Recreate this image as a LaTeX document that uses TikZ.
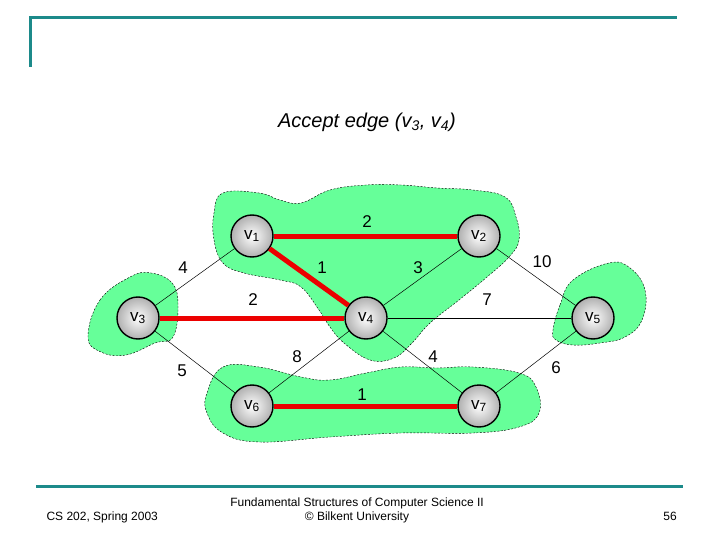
\documentclass[tikz,border=0pt]{standalone}
\usepackage{fontspec}
\setmainfont{Liberation Sans}
\definecolor{sarcelle}{RGB}{28,138,138}
\definecolor{vertpale}{RGB}{102,255,153}
\definecolor{rouge}{RGB}{236,0,0}
\newcommand{\sommet}[3]{\node[sommet] (#1) at (#2) {v\textsubscript{#3}}}
\newcommand{\arete}[2]{\draw[fine] (#1) -- (#2)}
\newcommand{\choisie}[2]{\draw[epaisse] (#1) -- (#2)}
\newcommand{\poids}[3]{\node[poids] (#1) at (#2) {#3}}

\begin{document}
\begin{tikzpicture}[x=1pt,y=-1pt,
	sommet/.style={circle,draw,line width=1.4pt,minimum size=42pt,inner sep=0pt,
		inner color=white,outer color=gray!62,font=\fontsize{17}{17}\selectfont},
	fine/.style={line width=0.5pt},
	epaisse/.style={line width=5pt,rouge},
	poids/.style={font=\fontsize{17}{17}\selectfont,inner sep=1pt},
	nuage/.style={fill=vertpale,draw,line width=0.4pt,dash pattern=on 2pt off 1.5pt},
	bande/.style={sarcelle,line width=3pt}]
	\useasboundingbox (0,0) rectangle (720,540);
	% cadre
	\draw[bande] (29,18) -- (677,18);
	\draw[bande] (30,18) -- (30,67);
	\draw[bande] (36,486) -- (683,486);
	\node[font=\fontsize{20}{20}\selectfont\itshape] (titre) at (367,122) {Accept edge (v\textsubscript{3}, v\textsubscript{4})};
	% composantes
	\draw[nuage] plot[smooth cycle,tension=0.7] coordinates {(214,213) (223,193) (259,193) (280,200) (301,203) (330,190) (366,185) (401,185) (437,188) (473,190) (505,197) (516,217) (519,240) (509,257) (487,277) (459,300) (430,323) (412,343) (394,358) (370,360) (344,343) (330,327) (319,310) (301,287) (280,280) (244,273) (223,263) (214,240)};
	\draw[nuage] plot[smooth cycle,tension=0.7] coordinates {(88,337) (100,300) (130,277) (151,273) (172,283) (178,305) (173,337) (155,343) (126,355) (101,352)};
	\draw[nuage] plot[smooth cycle,tension=0.7] coordinates {(553,330) (560,305) (573,280) (609,263) (630,268) (645,290) (642,320) (625,337) (600,343) (573,345) (556,340)};
	\draw[nuage] plot[smooth cycle,tension=0.7] coordinates {(207,393) (223,367) (259,367) (301,377) (330,380) (366,373) (401,367) (437,368) (473,367) (519,373) (536,387) (539,413) (519,427) (473,433) (401,433) (330,437) (259,442) (223,433) (207,413)};
	% sommets
	\sommet{v1}{252,236}{1};
	\sommet{v2}{479,236}{2};
	\sommet{v3}{138,318}{3};
	\sommet{v4}{366,318}{4};
	\sommet{v5}{593,318}{5};
	\sommet{v6}{252,406}{6};
	\sommet{v7}{479,406}{7};
	% aretes
	\arete{v3}{v1};
	\arete{v4}{v2};
	\arete{v2}{v5};
	\arete{v4}{v5};
	\arete{v3}{v6};
	\arete{v4}{v6};
	\arete{v4}{v7};
	\arete{v5}{v7};
	\choisie{v1}{v2};
	\choisie{v1}{v4};
	\choisie{v3}{v4};
	\choisie{v6}{v7};
	% poids
	\poids{p12}{367,222}{2};
	\poids{p13}{183,268}{4};
	\poids{p14}{322,268}{1};
	\poids{p24}{418,268}{3};
	\poids{p25}{542,262}{10};
	\poids{p34}{253,300}{2};
	\poids{p45}{487,300}{7};
	\poids{p46}{297,357}{8};
	\poids{p47}{433,357}{4};
	\poids{p36}{182,371}{5};
	\poids{p57}{556,368}{6};
	\poids{p67}{362,395}{1};
	% pied de page
	\node[anchor=west,font=\fontsize{12}{12}\selectfont] (cours) at (43,517) {CS 202, Spring 2003};
	\node[align=center,font=\fontsize{12}{14}\selectfont] (livre) at (357,510) {Fundamental Structures of Computer Science II\\ \textcopyright{} Bilkent University};
	\node[font=\fontsize{12}{12}\selectfont] (page) at (670,516) {56};
\end{tikzpicture}
\end{document}
